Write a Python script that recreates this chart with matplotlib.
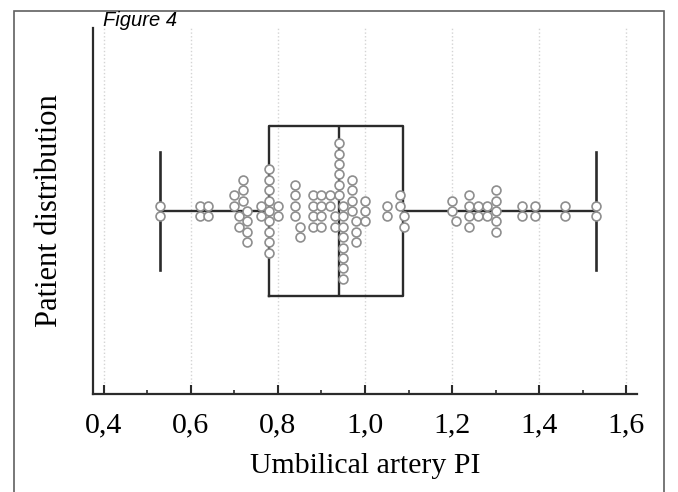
import matplotlib
matplotlib.use("Agg")
import matplotlib.pyplot as plt
import numpy as np
from matplotlib.patches import Rectangle
from matplotlib.ticker import FixedLocator, FuncFormatter

pi_values = [0.53, 0.62, 0.64, 0.70, 0.71, 0.72, 0.73, 0.76, 0.78, 0.80,
             0.84, 0.85, 0.88, 0.90, 0.92, 0.93, 0.94, 0.95, 0.97, 0.98,
             1.00, 1.05, 1.08, 1.09, 1.20, 1.21, 1.24, 1.26, 1.28, 1.30,
             1.36, 1.39, 1.46, 1.53]
pi_counts = [2, 2, 2, 2, 2, 3, 4, 2, 9, 2,
             4, 2, 4, 4, 2, 2, 6, 8, 4, 3,
             3, 2, 2, 2, 2, 1, 4, 2, 2, 5,
             2, 2, 2, 2]
x_ticks = [0.4, 0.6, 0.8, 1.0, 1.2, 1.4, 1.6]
x_minor = [0.5, 0.7, 0.9, 1.1, 1.3, 1.5]

SERIF = "Liberation Serif"
LINE = "#2b2b2b"


def stack_dots(values, window=0.015, step=0.057):
    """Group near-equal values and stack each group centred on the box axis,
    smallest value on top (like the original dot-and-box layout)."""
    vals = np.sort(np.asarray(values))
    groups = []
    for v in vals:
        if groups and v - groups[-1][0] < window - 1e-9:
            groups[-1].append(v)
        else:
            groups.append([v])
    xs, ys = [], []
    for g in groups:
        n = len(g)
        offs = ((n - 1) / 2 - np.arange(n)) * step
        xs.extend(g)
        ys.extend(offs)
    return np.array(xs), np.array(ys)


data = np.repeat(pi_values, pi_counts)

fig = plt.figure(figsize=(6.78, 4.92), dpi=100)
ax = fig.add_axes([93 / 678, 1 - 394 / 492, 544 / 678, 366 / 492])

ax.boxplot(data, positions=[0], orientation="horizontal", widths=0.934,
           whis=(0, 100), capwidths=0.64, showfliers=False,
           boxprops=dict(color=LINE, linewidth=1.7),
           medianprops=dict(color=LINE, linewidth=1.7),
           whiskerprops=dict(color=LINE, linewidth=1.7),
           capprops=dict(color=LINE, linewidth=1.9),
           zorder=2)

dx, dy = stack_dots(data)
ax.plot(dx, dy, "o", ms=6.4, mfc="white", mec="#8e8e8e", mew=1.2,
        linestyle="none", zorder=3)

ax.set_xlim(0.375, 1.625)
ax.set_ylim(-1, 1)

ax.xaxis.set_major_locator(FixedLocator(x_ticks))
ax.xaxis.set_minor_locator(FixedLocator(x_minor))
ax.xaxis.set_major_formatter(FuncFormatter(lambda v, _: f"{v:.1f}".replace(".", ",")))
ax.tick_params(axis="x", which="major", direction="in", length=6.5, width=1.5,
               color=LINE, pad=13, labelsize=21.5)
ax.tick_params(axis="x", which="minor", direction="in", length=3, width=1.2, color=LINE)
for lbl in ax.get_xticklabels():
    lbl.set_family(SERIF)
ax.set_yticks([])

for side in ("top", "right"):
    ax.spines[side].set_visible(False)
for side in ("left", "bottom"):
    ax.spines[side].set_color(LINE)
    ax.spines[side].set_linewidth(1.6)

ax.grid(axis="x", which="major", color="#d4d4d4", linestyle=":", linewidth=1)
ax.set_axisbelow(True)

ax.set_xlabel("Umbilical artery PI", family=SERIF, fontsize=21.5, labelpad=11)
ax.set_ylabel("Patient distribution", family=SERIF, fontsize=22, labelpad=21)

fig.text(103 / 678, 1 - 20 / 492, "Figure 4", family="Liberation Sans",
         style="italic", fontsize=14.5, va="center", ha="left")

fig.patches.append(Rectangle((14 / 678, -0.05), 650 / 678, 1.05 - 11 / 492,
                             transform=fig.transFigure, fill=False,
                             edgecolor="#606060", linewidth=1.2))

fig.savefig("out.png", dpi=100)
